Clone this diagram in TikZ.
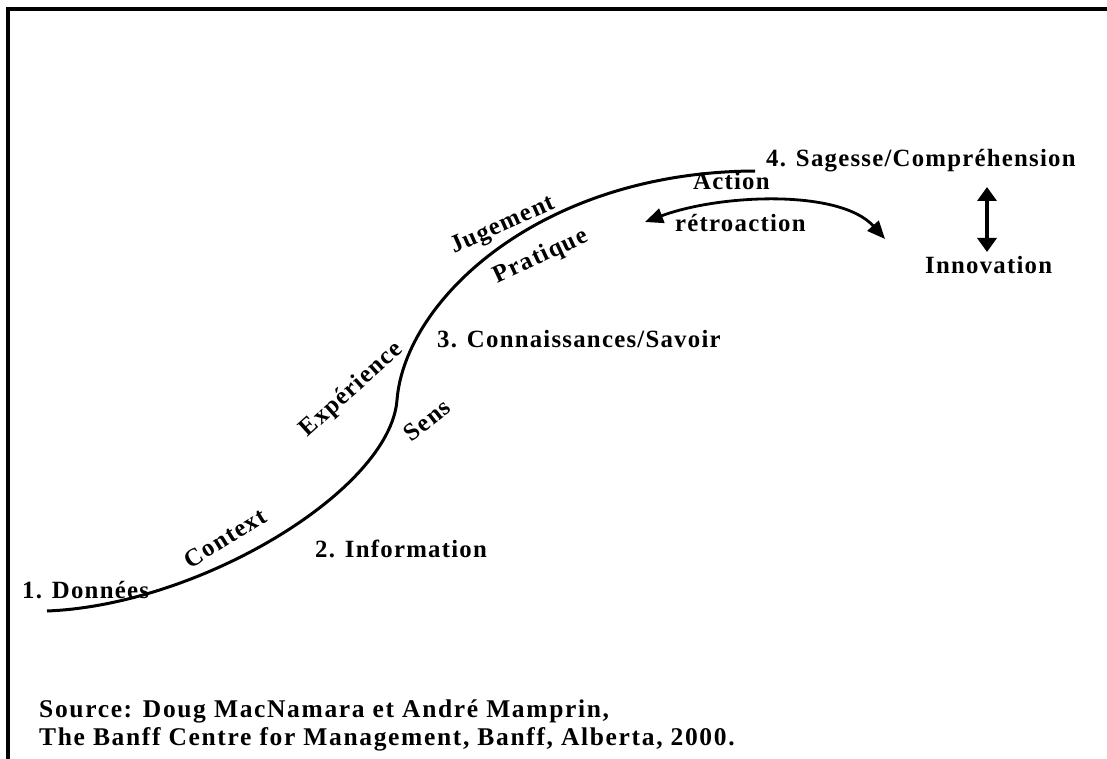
\documentclass[tikz,border=0pt]{standalone}
\usepackage{fontspec}
\setmainfont{Liberation Serif}[LetterSpace=5]
\newfontfamily\srcfont{Liberation Serif}[LetterSpace=6.5]
\usetikzlibrary{arrows.meta}
\begin{document}
\begin{tikzpicture}[x=1pt,y=-1pt,
  lbl/.style={inner sep=0pt,font=\fontsize{24.8}{28}\selectfont\bfseries},
  srclbl/.style={inner sep=0pt,font=\fontsize{25.5}{28}\srcfont\bfseries},
  curve/.style={line width=3pt},
  fb/.style={line width=2.8pt,{Triangle[length=18pt,width=15pt]}-{Triangle[length=18pt,width=15pt]}},
  vert/.style={line width=4pt,{Triangle[length=14pt,width=19pt]}-{Triangle[length=14pt,width=19pt]}}]
\useasboundingbox (0,0) rectangle (1107,759);
% frame
\draw[line width=4pt] (8,759) -- (8,9) -- (1107,9);
% S curve
\coordinate (c0) at (47,611);
\coordinate (c1) at (397,400);
\coordinate (c2) at (755,171);
\draw[curve] (c0) .. controls (200,605) and (390,490) .. (c1)
  .. controls (405,300) and (540,172) .. (c2);
% labels
\node[lbl,anchor=base west] (don) at (22,598) {1. Données};
\node[lbl,anchor=base west] (inf) at (315,557) {2. Information};
\node[lbl,anchor=base west] (con) at (437,347) {3. Connaissances/Savoir};
\node[lbl,anchor=base west] (sag) at (766,167) {4. Sagesse/Compréhension};
\node[lbl,anchor=base west] (act) at (693,190) {Action};
\node[lbl,anchor=base west] (ret) at (675,232) {rétroaction};
\node[lbl,anchor=base west] (inn) at (925,273) {Innovation};
\node[lbl,rotate=32] (ctx) at (225,538) {Context};
\node[lbl,rotate=42] (exp) at (352,390) {Expérience};
\node[lbl,rotate=38] (sen) at (427,420) {Sens};
\node[lbl,rotate=24] (jug) at (503,226) {Jugement};
\node[lbl,rotate=25] (pra) at (541,257) {Pratique};
\node[srclbl,anchor=base west] (src1) at (39,717) {Source: Doug MacNamara et André Mamprin,};
\node[srclbl,anchor=base west] (src2) at (39,745) {The Banff Centre for Management, Banff, Alberta, 2000.};
% feedback arrow
\coordinate (fbL) at (645,222);
\coordinate (fbR) at (885,239);
\draw[fb] (fbL) .. controls (720,194) and (840,189) .. (fbR);
% vertical double arrow
\coordinate (vT) at (987,187);
\coordinate (vB) at (987,252);
\draw[vert] (vT) -- (vB);
\end{tikzpicture}
\end{document}
